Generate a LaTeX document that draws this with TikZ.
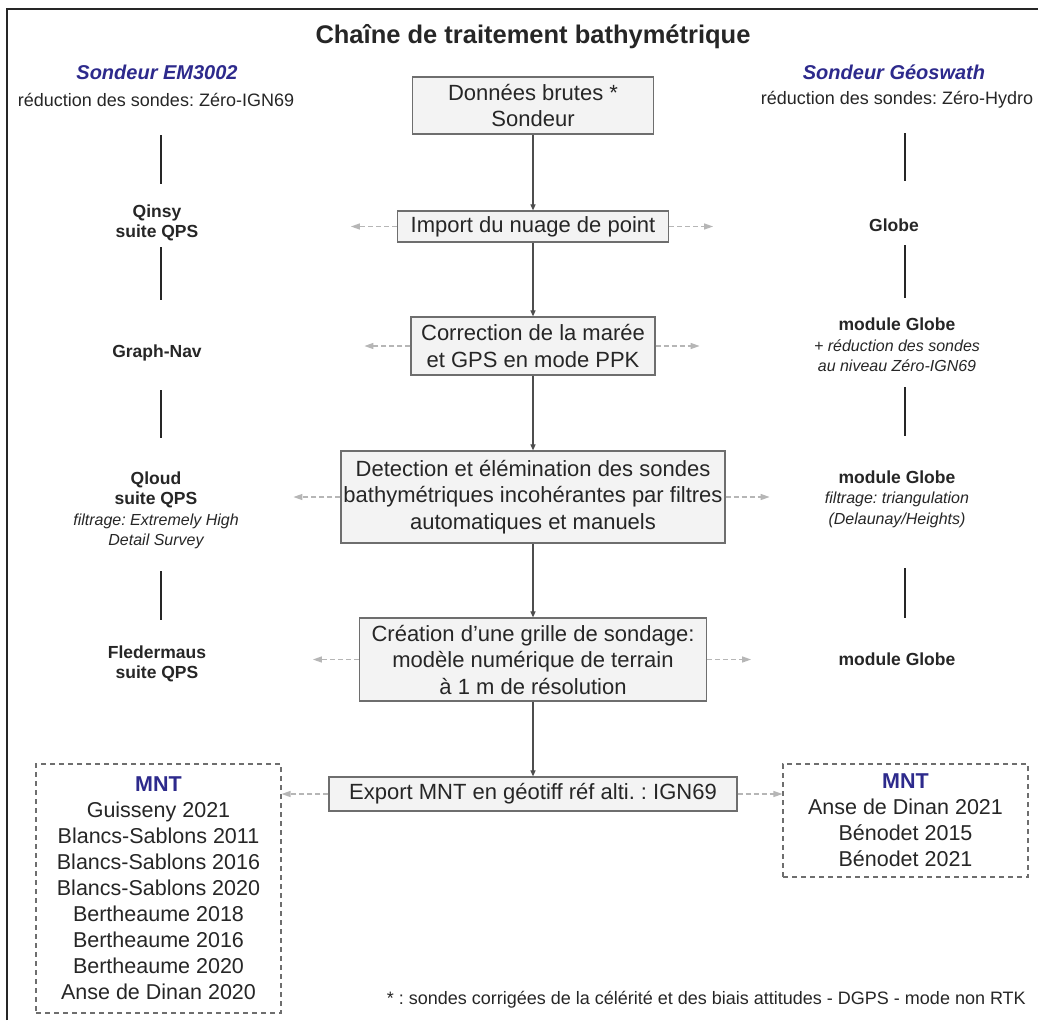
\documentclass[tikz,border=0pt]{standalone}
\usepackage{fontspec}
\setmainfont{Liberation Sans}
\usetikzlibrary{arrows.meta,positioning}
\definecolor{ink}{RGB}{38,38,38}
\definecolor{navy}{RGB}{45,42,140}
\definecolor{edge}{RGB}{110,110,110}
\definecolor{soft}{RGB}{243,243,243}
\definecolor{faint}{RGB}{182,182,182}
\tikzset{
  proc/.style={draw=edge,fill=soft,line width=1.2pt,align=center,inner sep=0pt,text=ink,font=\fontsize{22}{26.5}\selectfont},
  tool/.style={align=center,inner sep=0pt,text=ink,font=\fontsize{17.5}{20.5}\selectfont\bfseries},
  info/.style={align=center,inner sep=0pt,text=ink,font=\fontsize{18}{21}\selectfont},
  head/.style={inner sep=0pt,text=navy,font=\fontsize{20}{24}\selectfont\bfseries\itshape},
  mnt/.style={draw=edge,dash pattern=on 5pt off 4pt,line width=1.1pt,align=center,inner sep=0pt,text=ink,font=\fontsize{21.5}{26}\selectfont},
  arr/.style={-{Triangle[length=6pt,width=5pt]},draw=edge!70!black,line width=1.1pt},
  side/.style={-{Triangle[length=9pt,width=6pt]},draw=faint,line width=1.3pt,dash pattern=on 5pt off 3pt},
  vl/.style={draw=ink,line width=1.4pt}
}
\newcommand{\remark}{\mdseries\itshape\fontsize{16}{20.5}\selectfont}
\frenchspacing

\begin{document}
\begin{tikzpicture}[x=1pt,y=-1pt]
\useasboundingbox (0,0) rectangle (1038,1020);
\draw[ink,line width=1.5pt] (7,1020) -- (7,9) -- (1038,9);
\node[inner sep=0pt,text=ink,font=\fontsize{25.5}{30}\selectfont\bfseries] (t) at (533,37) {Chaîne de traitement bathymétrique};
\node[proc,minimum width=241,minimum height=57] (a) at (533,105.5) {Données brutes *\\Sondeur};
\node[proc,minimum width=271,minimum height=31] (b) at (533,226.5) {Import du nuage de point};
\node[proc,minimum width=244,minimum height=58] (c) at (533,346) {Correction de la marée\\et GPS en mode PPK};
\node[proc,minimum width=384,minimum height=92] (d) at (533,497) {Detection et élémination des sondes\\bathymétriques incohérantes par filtres\\automatiques et manuels};
\node[proc,minimum width=347,minimum height=83] (e) at (533,659.5) {Création d’une grille de sondage:\\modèle numérique de terrain\\à 1 m de résolution};
\node[proc,minimum width=408,minimum height=34] (f) at (533,794) {Export MNT en géotiff réf alti. : IGN69};
\coordinate (lx) at (161,0);
\coordinate (rx) at (905,0);
\node[head] (hl) at (157,72) {Sondeur EM3002};
\node[info] (l0) at (156,100) {réduction des sondes: Zéro-IGN69};
\node[tool] (l1) at (157,223) {Qinsy\\suite QPS};
\node[tool] (l2) at (157,353) {Graph-Nav};
\node[tool] (l3) at (156,510.5) {Qloud\\suite QPS\\\remark filtrage: Extremely High\\\remark Detail Survey};
\node[tool] (l4) at (157,664) {Fledermaus\\suite QPS};
\node[head] (hr) at (894,72) {Sondeur Géoswath};
\node[info] (r0) at (897,100) {réduction des sondes: Zéro-Hydro};
\node[tool] (r1) at (894,225) {Globe};
\node[tool] (r2) at (897,345) {module Globe\\\remark + réduction des sondes\\\remark au niveau Zéro-IGN69};
\node[tool] (r3) at (897,499) {module Globe\\\remark filtrage: triangulation\\\remark (Delaunay/Heights)};
\node[tool] (r4) at (897,659) {module Globe};
\node[mnt,minimum width=245,minimum height=249] (mntl) at (158.5,888.5) {{\color{navy}\bfseries MNT}\\Guisseny 2021\\Blancs-Sablons 2011\\Blancs-Sablons 2016\\Blancs-Sablons 2020\\Bertheaume 2018\\Bertheaume 2016\\Bertheaume 2020\\Anse de Dinan 2020};
\node[mnt,minimum width=245,minimum height=113] (mntr) at (905.5,820.5) {{\color{navy}\bfseries MNT}\\Anse de Dinan 2021\\Bénodet 2015\\Bénodet 2021};
\node[info,anchor=east] (fn) at (1026,1000) {* : sondes corrigées de la célérité et des biais attitudes - DGPS - mode non RTK};
\draw[arr] (a) -- (b);
\draw[arr] (b) -- (c);
\draw[arr] (c) -- (d);
\draw[arr] (d) -- (e);
\draw[arr] (e) -- (f);
\draw[side] (b.west) -- ++(-46,0);
\draw[side] (b.east) -- ++(44,0);
\draw[side] (c.west) -- ++(-46,0);
\draw[side] (c.east) -- ++(44,0);
\draw[side] (d.west) -- ++(-47,0);
\draw[side] (d.east) -- ++(44,0);
\draw[side] (e.west) -- ++(-46,0);
\draw[side] (e.east) -- ++(44,0);
\draw[side] (f.west) -- (f.west -| mntl.east);
\draw[side] (f.east) -- (f.east -| mntr.west);
\draw[vl,shorten <=35pt,shorten >=39pt] (l0 -| lx) -- (l1 -| lx);
\draw[vl,shorten <=24pt,shorten >=53pt] (l1 -| lx) -- (l2 -| lx);
\draw[vl,shorten <=37pt,shorten >=72.5pt] (l2 -| lx) -- (l3 -| lx);
\draw[vl,shorten <=60.5pt,shorten >=44pt] (l3 -| lx) -- (l4 -| lx);
\draw[vl,shorten <=33pt,shorten >=44pt] (r0 -| rx) -- (r1 -| rx);
\draw[vl,shorten <=20pt,shorten >=47pt] (r1 -| rx) -- (r2 -| rx);
\draw[vl,shorten <=42pt,shorten >=63pt] (r2 -| rx) -- (r3 -| rx);
\draw[vl,shorten <=69pt,shorten >=41pt] (r3 -| rx) -- (r4 -| rx);
\end{tikzpicture}
\end{document}
